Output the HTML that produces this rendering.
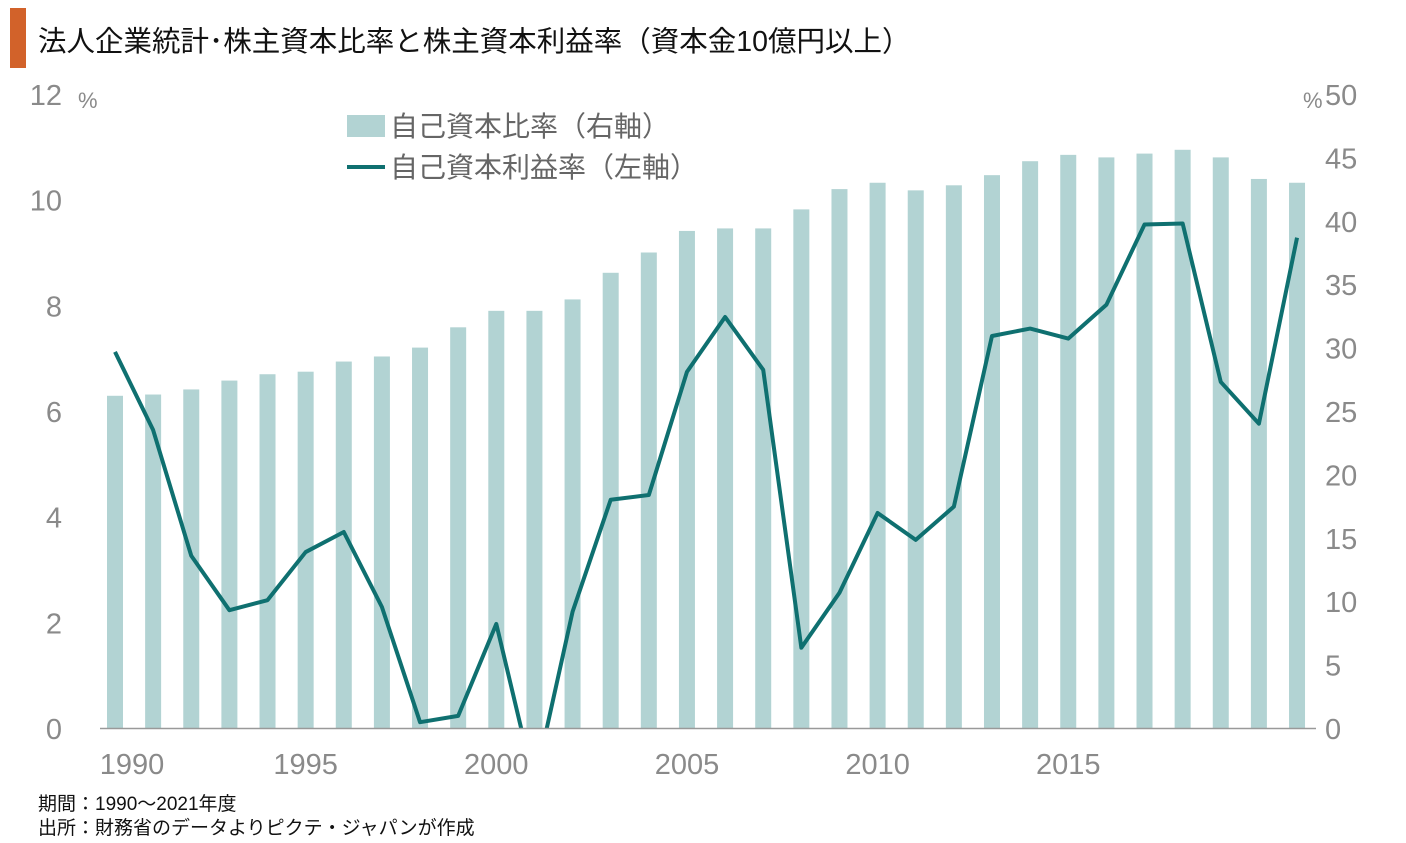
<!DOCTYPE html>
<html><head><meta charset="utf-8"><style>
body{margin:0;background:#fff;width:1406px;height:838px;overflow:hidden;font-family:"Liberation Sans","Noto Sans CJK JP",sans-serif}
</style></head><body>
<svg width="1406" height="838" xmlns="http://www.w3.org/2000/svg">
<rect x="10" y="8" width="16" height="60" fill="#d2622a"/>
<text x="38" y="51" font-size="28.5" fill="#111" font-family="Liberation Sans, Noto Sans CJK JP, sans-serif">法人企業統計･株主資本比率と株主資本利益率（資本金10億円以上）</text>
<g id="bars"></g>
<g id="lineg"></g>
<line x1="100" y1="728.5" x2="1316" y2="728.5" stroke="#999" stroke-width="1.5"/>
<g id="ticks" font-size="29" fill="#8a8a8a" font-family="Liberation Sans, sans-serif"></g>
<text x="78" y="108" font-size="22" fill="#8a8a8a">%</text>
<text x="1303" y="108" font-size="22" fill="#8a8a8a">%</text>
<g font-size="28" fill="#666" font-family="Liberation Sans, Noto Sans CJK JP, sans-serif">
<rect x="347" y="115" width="38" height="22" fill="#b2d3d3"/>
<text x="390" y="136">自己資本比率（右軸）</text>
<line x1="347" y1="167" x2="385" y2="167" stroke="#0f7070" stroke-width="4"/>
<text x="390" y="177">自己資本利益率（左軸）</text>
</g>
<text x="38" y="810" font-size="19" fill="#111">期間：1990～2021年度</text>
<text x="38" y="834" font-size="19" fill="#111">出所：財務省のデータよりピクテ・ジャパンが作成</text>
</svg>
<script>
const years=[1990,1991,1992,1993,1994,1995,1996,1997,1998,1999,2000,2001,2002,2003,2004,2005,2006,2007,2008,2009,2010,2011,2012,2013,2014,2015,2016,2017,2018,2019,2020,2021];
const equityRatio=[26.2,26.3,26.7,27.4,27.9,28.1,28.9,29.3,30.0,31.6,32.9,32.9,33.8,35.9,37.5,39.2,39.4,39.4,40.9,42.5,43.0,42.4,42.8,43.6,44.7,45.2,45.0,45.3,45.6,45.0,43.3,43.0];
const roe=[7.12,5.64,3.26,2.23,2.42,3.33,3.71,2.29,0.11,0.23,1.97,-1.06,2.2,4.32,4.41,6.74,7.78,6.78,1.52,2.56,4.07,3.56,4.19,7.42,7.56,7.37,8.01,9.53,9.55,6.55,5.76,9.28];
const leftTicks=[0,2,4,6,8,10,12];
const rightTicks=[0,5,10,15,20,25,30,35,40,45,50];
const xTicks=[1990,1995,2000,2005,2010,2015];
{
const NS="http://www.w3.org/2000/svg";
const base=728,plotTop=94;
const xs=yr=>115+(yr-1990)*38.13;
const yL=v=>base-(base-plotTop)*v/12;
const yR=v=>base-(base-plotTop)*v/50;
const bars=document.getElementById('bars');
years.forEach((yr,i)=>{
const r=document.createElementNS(NS,'rect');


r.setAttribute('x',xs(yr)-8);r.setAttribute('width',16);
r.setAttribute('y',yR(equityRatio[i]));r.setAttribute('height',base-yR(equityRatio[i]));
r.setAttribute('fill','#b2d3d3');bars.appendChild(r);});
const lg=document.getElementById('lineg');
const cp=document.createElementNS(NS,'clipPath');cp.setAttribute('id','clip');
const cr=document.createElementNS(NS,'rect');cr.setAttribute('x',0);cr.setAttribute('y',0);cr.setAttribute('width',1406);cr.setAttribute('height',base);
cp.appendChild(cr);lg.appendChild(cp);
const p=document.createElementNS(NS,'polyline');


p.setAttribute('points',years.map((yr,i)=>xs(yr)+','+yL(roe[i])).join(' '));
p.setAttribute('fill','none');p.setAttribute('stroke','#0f7070');p.setAttribute('stroke-width','4');p.setAttribute('stroke-linejoin','round');
p.setAttribute('clip-path','url(#clip)');lg.appendChild(p);
const tg=document.getElementById('ticks');
function t(str,xx,yy,anchor,name){const e=document.createElementNS(NS,'text');


e.setAttribute('x',xx);e.setAttribute('y',yy);e.setAttribute('text-anchor',anchor);e.textContent=str;tg.appendChild(e);}
leftTicks.forEach(v=>t(String(v),62,yL(v)+11,'end','left-tick-'+v));
rightTicks.forEach(v=>t(String(v),1325,yR(v)+11,'start','right-tick-'+v));
xTicks.forEach(v=>t(String(v),Math.max(xs(v),132),774,'middle','x-tick-'+v));
}
</script>
</body></html>
